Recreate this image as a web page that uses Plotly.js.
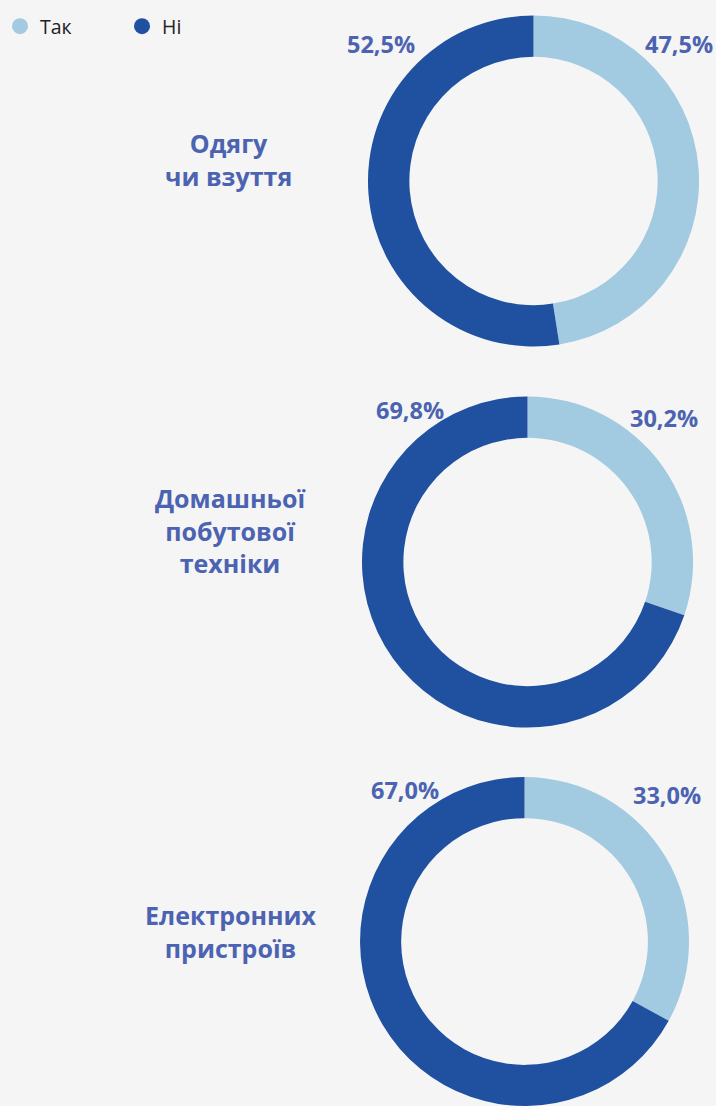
<!DOCTYPE html>
<html>
<head>
<meta charset="utf-8">
<script src="https://cdn.plot.ly/plotly-3.0.1.min.js"></script>
<style>
  html, body { margin: 0; padding: 0; background: #f5f5f5; }
  #chart { width: 716px; height: 1106px; }
</style>
</head>
<body>
<div id="chart"></div>
<script>
const categories = ["Одягу<br>чи взуття", "Домашньої<br>побутової<br>техніки", "Електронних<br>пристроїв"];
const seriesNames = ["Так", "Ні"];
const yesValues = [47.5, 30.2, 33.0];
const noValues = [52.5, 69.8, 67.0];

const colors = ["#a2cae1", "#1f51a0"];
const textColor = "#4b63b1";
const W = 716, H = 1106;

// donut layout in pixels (center x, center y from top, radius)
const donuts = [
  {cx: 533, cy: 181, r: 166},
  {cx: 527, cy: 562, r: 166},
  {cx: 524, cy: 943, r: 166}
];
// title block centers
const titlePos = [
  {x: 227, y: 159},
  {x: 229, y: 530.5},
  {x: 229.5, y: 931}
];
const yesLabelPos = [{x: 679, y: 44}, {x: 664, y: 418}, {x: 667, y: 795}];
const noLabelPos = [{x: 380, y: 44}, {x: 409, y: 410}, {x: 404, y: 790}];

function fmt(v) { return v.toFixed(1).replace('.', ',') + '%'; }
function clamp(v) { return Math.max(0, Math.min(1, v)); }

const traces = [];
const annotations = [];
const pctFont = {family: 'Open Sans', size: 23.5, weight: 700, color: textColor};
categories.forEach((cat, i) => {
  const d = donuts[i];
  traces.push({
    type: 'pie',
    labels: seriesNames,
    values: [yesValues[i], noValues[i]],
    sort: false,
    direction: 'clockwise',
    rotation: 0,
    hole: 0.75,
    textinfo: 'none',
    hoverinfo: 'skip',
    showlegend: false,
    marker: {colors: colors, line: {width: 0}},
    domain: {
      x: [clamp((d.cx - d.r) / W), clamp((d.cx + d.r) / W)],
      y: [clamp((H - d.cy - d.r) / H), clamp((H - d.cy + d.r) / H)]
    }
  });
  annotations.push({
    xref: 'paper', yref: 'paper',
    x: titlePos[i].x / W, y: 1 - titlePos[i].y / H,
    xanchor: 'center', yanchor: 'middle',
    text: cat, showarrow: false, align: 'center',
    font: {family: 'Open Sans', size: 25, weight: 700, color: textColor}
  });
  annotations.push({
    xref: 'paper', yref: 'paper',
    x: yesLabelPos[i].x / W, y: 1 - yesLabelPos[i].y / H,
    xanchor: 'center', yanchor: 'middle',
    text: fmt(yesValues[i]), showarrow: false, font: pctFont
  });
  annotations.push({
    xref: 'paper', yref: 'paper',
    x: noLabelPos[i].x / W, y: 1 - noLabelPos[i].y / H,
    xanchor: 'center', yanchor: 'middle',
    text: fmt(noValues[i]), showarrow: false, font: pctFont
  });
});

// legend entries (circle markers)
seriesNames.forEach((name, j) => {
  traces.push({
    type: 'scatter', mode: 'markers',
    x: [null], y: [null], name: name,
    marker: {color: colors[j], size: 18, symbol: 'circle'},
    hoverinfo: 'skip', showlegend: true
  });
});

const layout = {
  width: W, height: H,
  margin: {l: 0, r: 0, t: 0, b: 0},
  paper_bgcolor: '#f5f5f5',
  plot_bgcolor: '#f5f5f5',
  xaxis: {visible: false},
  yaxis: {visible: false},
  showlegend: true,
  legend: {
    orientation: 'h',
    x: -2 / W, y: 1 - 7 / H, xanchor: 'left', yanchor: 'top',
    entrywidth: 77, entrywidthmode: 'pixels',
    font: {family: 'Open Sans', size: 19.5, color: '#222222'},
    bgcolor: 'rgba(0,0,0,0)'
  },
  annotations: annotations
};

Plotly.newPlot('chart', traces, layout, {displayModeBar: false, staticPlot: true});
</script>
</body>
</html>
